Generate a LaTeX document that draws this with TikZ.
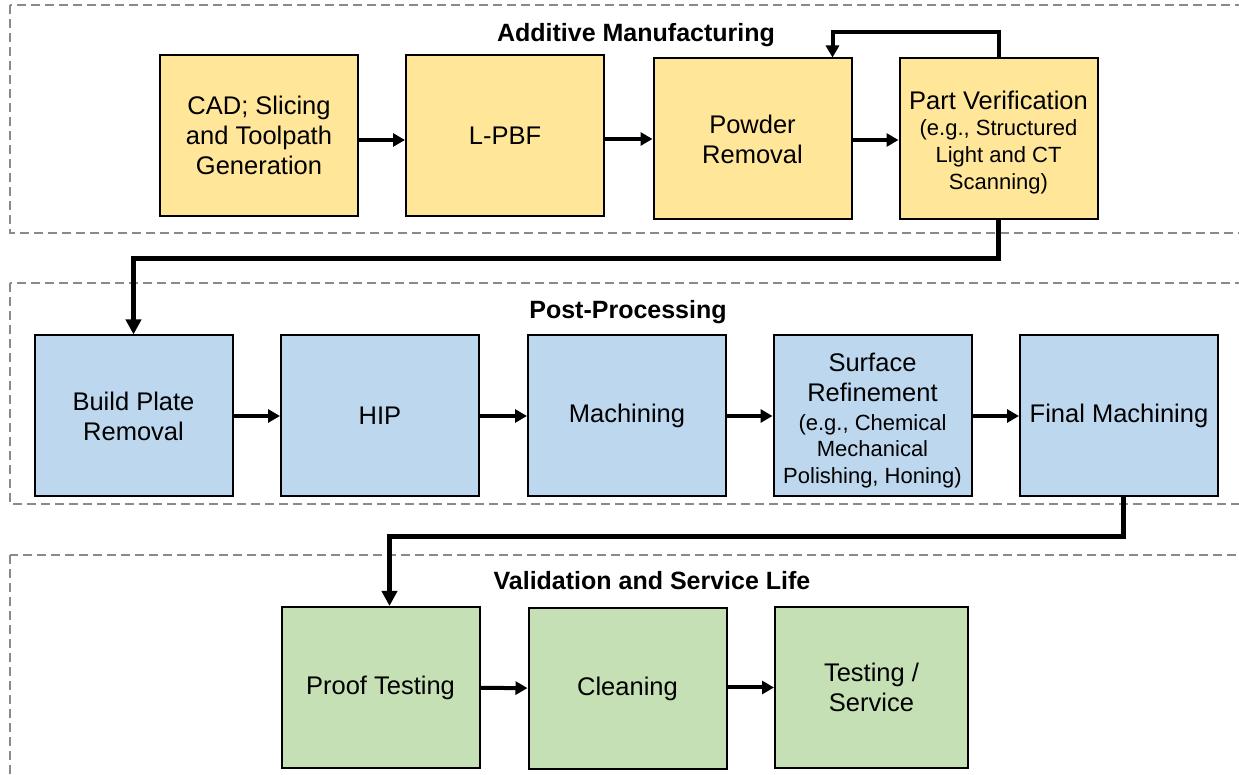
\documentclass[tikz,border=0pt]{standalone}
\usepackage{fontspec}
\setmainfont{Liberation Sans}
\usepackage{xcolor}
\usepackage{tikz}
\usetikzlibrary{arrows.meta,calc}

\definecolor{amyellow}{HTML}{FFE699}
\definecolor{ppblue}{HTML}{BDD7EE}
\definecolor{vsgreen}{HTML}{C5E0B4}
\definecolor{phasegray}{HTML}{8A8A8A}
\newcommand{\subtxt}{\fontsize{11}{13.5}\selectfont}

\tikzset{
  stage/.style = {draw, line width=1pt, minimum width=99pt, minimum height=80.5pt,
    inner sep=1pt, align=center, font=\fontsize{12.75}{15}\selectfont},
  phase/.style = {draw=phasegray, line width=1pt, dash pattern=on 4.5pt off 2.5pt},
  phasetitle/.style = {font=\bfseries\fontsize{12.5}{15}\selectfont, anchor=base},
  flow/.style = {line width=2pt, -{Triangle[length=6pt,width=6.5pt]}},
  link/.style = {line width=2.5pt, -{Triangle[length=7.5pt,width=7.5pt]}}
}

\begin{document}
\begin{tikzpicture}[x = .5pt, y = -.5pt]
\clip (0,0) rectangle (1239,775);
% phase frames
\draw[phase] (10,5) rectangle (1260,233);
\draw[phase] (10,283) rectangle (1260,504);
\draw[phase] (10,555) rectangle (1260,800);
\node[phasetitle] (tam) at (636,42) {Additive Manufacturing};
\node[phasetitle] (tpp) at (628,319) {Post-Processing};
\node[phasetitle] (tvs) at (652,589) {Validation and Service Life};

% additive manufacturing
\node[stage, fill = amyellow] (cad) at (259,135.5) {CAD; Slicing\\and Toolpath\\Generation};
\node[stage, fill = amyellow] (lpbf) at (505,135.5) {L-PBF};
\node[stage, fill = amyellow] (powder) at (752.5,139) {Powder\\Removal};
\node[stage, fill = amyellow] (verif) at (998.5,139)
  {\rule{0pt}{12.5pt}Part Verification\\[-2pt]\subtxt (e.g., Structured\\[-1.5pt]\subtxt Light and CT\\[-1.5pt]\subtxt Scanning)};

% post-processing
\node[stage, fill = ppblue] (build) at (133.5,416) {Build Plate\\Removal};
\node[stage, fill = ppblue] (hip) at (380,416) {HIP};
\node[stage, fill = ppblue] (mach) at (627,416) {Machining};
\node[stage, fill = ppblue] (surf) at (872.5,416)
  {\rule{0pt}{13.5pt}Surface\\Refinement\\[-0.5pt]\subtxt (e.g., Chemical\\[-1.75pt]\subtxt Mechanical\\[-1.75pt]\subtxt Polishing, Honing)};
\node[stage, fill = ppblue] (final) at (1119,416) {Final Machining};

% validation and service life
\node[stage, fill = vsgreen] (proof) at (380.5,687.5) {Proof Testing};
\node[stage, fill = vsgreen] (clean) at (627.5,688.5) {Cleaning};
\node[stage, fill = vsgreen, minimum width = 96.5pt] (service) at (871.5,687.5) {Testing /\\Service};

% arrows
\draw[flow] (cad.east |- 0,140) -- (lpbf.west |- 0,140);
\draw[flow] (lpbf.east |- 0,139) -- (powder.west |- 0,139);
\draw[flow] (powder.east |- 0,140) -- (verif.west |- 0,140);
\draw[flow] (verif.north) -- ++(0,-25) -| ($(powder.north west)!.9!(powder.north east)$);
\draw[link] (verif.south) -- ++(0,38) -| (build.north);
\draw[flow] (build) -- (hip);
\draw[flow] (hip) -- (mach);
\draw[flow] (mach) -- (surf);
\draw[flow] (surf) -- (final);
\draw[link] ($(final.south)+(4,0)$) -- ++(0,39) -| ($(proof.north)+(9,0)$);
\draw[flow] (proof) -- (clean);
\draw[flow] (clean.east |- proof) -- (service.west |- proof);
\end{tikzpicture}
\end{document}
